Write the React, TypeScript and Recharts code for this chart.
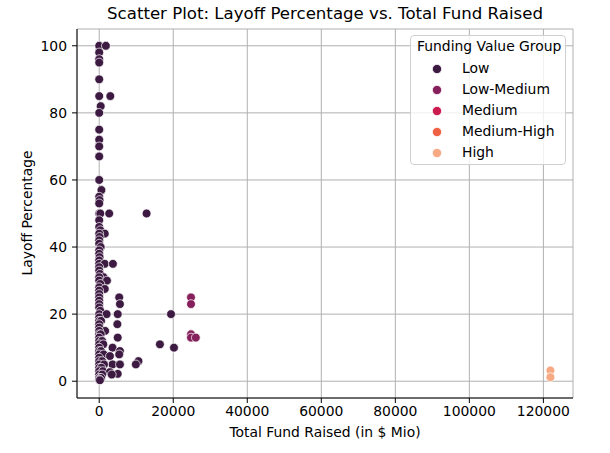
import { ScatterChart, Scatter, XAxis, YAxis, CartesianGrid, Label } from 'recharts';

// [fund raised ($ Mio), layoff percentage]
const lowPoints: number[][] = [
    [0, 100], [1800, 100], [0, 98], [0, 96], [0, 95], [0, 90], [0, 85], [3000, 85], [400, 82], [0, 80],
    [0, 75], [0, 72], [0, 70], [0, 67], [0, 60], [600, 57], [0, 55], [100, 54], [0, 53], [0, 50],
    [300, 50], [2700, 50], [12800, 50], [0, 48], [0, 46], [300, 45], [1500, 44], [0, 44], [100, 43], [0, 42],
    [0, 41], [400, 40], [0, 39], [0, 38], [100, 37], [0, 36], [0, 35], [1500, 35], [3700, 35], [0, 34],
    [0, 33], [200, 32], [1200, 31], [0, 31], [0, 30], [2100, 30], [300, 29], [0, 28], [1500, 27.5], [0, 27],
    [0, 26], [0, 25], [5400, 25], [0, 24], [5600, 23], [0, 23], [0, 22], [300, 21], [0, 20], [2000, 20],
    [5000, 20], [19400, 20], [0, 19], [0, 18], [500, 18], [4900, 17], [0, 17], [0, 16], [1600, 15], [0, 15],
    [0, 14], [400, 14], [0, 13], [5000, 13], [0, 12], [800, 12], [0, 11], [1100, 11], [16400, 11], [0, 10],
    [3600, 10], [20200, 10], [0, 9], [5600, 9], [500, 9], [0, 8], [5400, 8], [1200, 8], [0, 7], [2900, 7.5],
    [0, 6], [10600, 6], [800, 6], [0, 5], [9900, 5], [3600, 5], [5600, 5], [1300, 5], [0, 4], [600, 4],
    [0, 3], [1000, 3], [2900, 2.7], [0, 2], [5000, 2.2], [3400, 2], [800, 2], [0, 1], [500, 1], [0, 0.5],
    [200, 0.3],
];
const lowMediumPoints: number[][] = [[24800, 25], [24800, 23], [24800, 14], [24800, 13], [26100, 13]];
const mediumPoints: number[][] = [];
const mediumHighPoints: number[][] = [];
const highPoints: number[][] = [[121900, 3.2], [121900, 1.2]];

const groupNames = ['Low', 'Low-Medium', 'Medium', 'Medium-High', 'High'];
const groupColors = ['#3d1a42', '#86205c', '#cb1b4f', '#f06043', '#f6a983'];
const groupPoints = [lowPoints, lowMediumPoints, mediumPoints, mediumHighPoints, highPoints];

const xTicks = [0, 20000, 40000, 60000, 80000, 100000, 120000];
const yTicks = [0, 20, 40, 60, 80, 100];

const font = '"DejaVu Sans", sans-serif';
const fs = 13.9;

const Dot = (props: any) => {
    const { cx, cy, fill } = props;
    if (cx == null || cy == null) return null;
    return <circle cx={cx} cy={cy} r={4.4} fill={fill} stroke="#ffffff" strokeWidth={0.7} />;
};

export default function App() {
    return (
        <div style={{ position: 'absolute', left: 0, top: 0, width: 610, height: 453, background: '#fff', fontFamily: font }}>
            <div style={{ position: 'absolute', left: 0, top: 4, width: 650, textAlign: 'center', fontSize: 16.6, color: '#000' }}>
                Scatter Plot: Layoff Percentage vs. Total Fund Raised
            </div>
            <ScatterChart width={610} height={453} margin={{ top: 29, right: 37, bottom: 15, left: 27 }}>
                <CartesianGrid stroke="#b0b0b0" strokeWidth={1} />
                <XAxis
                    type="number"
                    dataKey="x"
                    domain={[-6000, 128000]}
                    ticks={xTicks}
                    allowDataOverflow
                    height={40}
                    tickSize={5}
                    tickMargin={3}
                    tick={{ fill: '#000', fontSize: fs, fontFamily: font }}
                    stroke="#000"
                    interval={0}
                >
                    <Label value="Total Fund Raised (in $ Mio)" position="insideBottom" offset={1} fill="#000" fontSize={fs} fontFamily={font} />
                </XAxis>
                <YAxis
                    type="number"
                    dataKey="y"
                    domain={[-5, 105]}
                    ticks={yTicks}
                    allowDataOverflow
                    width={50}
                    tickSize={5}
                    tickMargin={5}
                    tick={{ fill: '#000', fontSize: fs, fontFamily: font }}
                    stroke="#000"
                    interval={0}
                >
                    <Label
                        content={() => (
                            <text x={27} y={213} transform="rotate(-90 27 213)" textAnchor="middle" dominantBaseline="central" fill="#000" fontSize={fs} fontFamily={font}>
                                Layoff Percentage
                            </text>
                        )}
                    />
                </YAxis>
                {groupPoints.map((pts, i) => (
                    <Scatter
                        key={groupNames[i]}
                        name={groupNames[i]}
                        data={pts.map(([x, y]) => ({ x, y }))}
                        fill={groupColors[i]}
                        shape={<Dot />}
                        isAnimationActive={false}
                    />
                ))}
            </ScatterChart>
            <div
                style={{
                    position: 'absolute', left: 410, top: 35, width: 156, height: 130,
                    background: 'rgba(255,255,255,0.8)', border: '1px solid #d0d0d0', borderRadius: 4,
                    boxSizing: 'border-box', fontSize: fs, color: '#000',
                }}
            >
                <div style={{ position: 'absolute', left: 6, top: 2, whiteSpace: 'nowrap' }}>Funding Value Group</div>
                {groupNames.map((name, i) => (
                    <div key={name} style={{ position: 'absolute', left: 0, top: 24 + i * 21, height: 18, whiteSpace: 'nowrap' }}>
                        <svg width={40} height={18} style={{ position: 'absolute', left: 12, top: 0 }}>
                            <circle cx={14} cy={9} r={4.6} fill={groupColors[i]} stroke="#fff" strokeWidth={0.7} />
                        </svg>
                        <span style={{ position: 'absolute', left: 51, top: 0 }}>{name}</span>
                    </div>
                ))}
            </div>
        </div>
    );
}
